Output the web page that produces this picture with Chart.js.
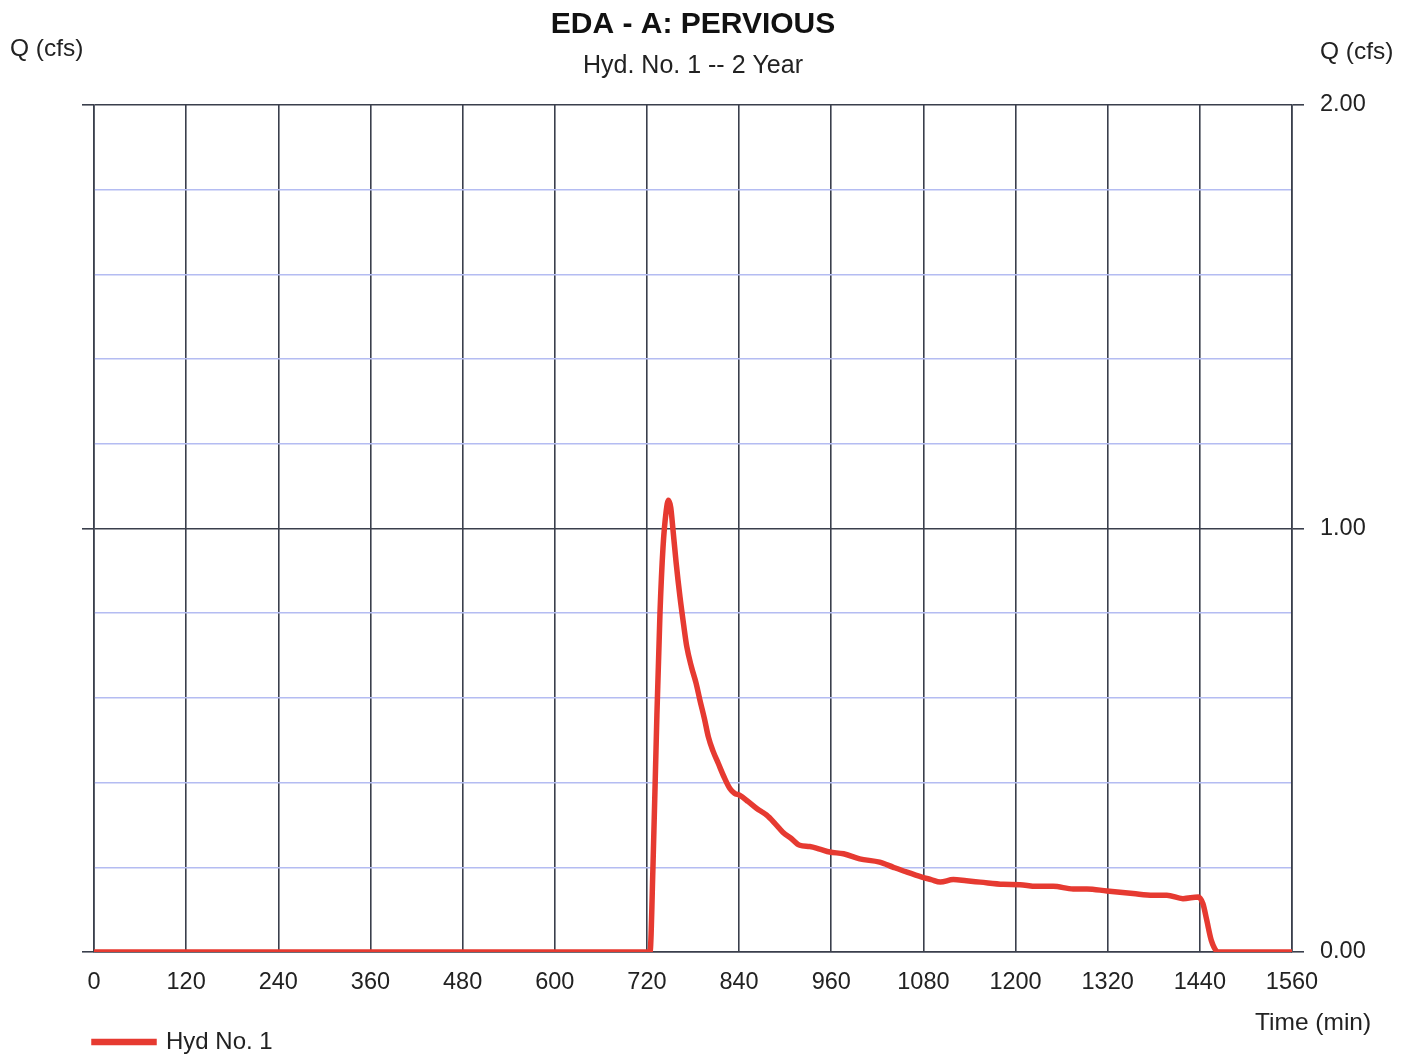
<!DOCTYPE html>
<html>
<head>
<meta charset="utf-8">
<title>EDA - A: PERVIOUS</title>
<script src="https://cdn.jsdelivr.net/npm/chart.js@4.4.1/dist/chart.umd.min.js"></script>
<style>
  html, body { margin: 0; padding: 0; background: #fff; }
  #chart { display: block; }
</style>
</head>
<body>
<canvas id="chart" width="1413" height="1058"></canvas>
<script>
// Hydrograph values
const times = [
  0, 720, 724, 728, 733, 737, 741, 745, 748, 751,
  754, 758, 763, 768, 772, 778, 784, 789, 795, 800,
  806, 813, 820, 828, 834, 841, 852, 863, 876, 886,
  897, 908, 919, 932, 945, 958, 976, 997, 1023, 1041,
  1058, 1078, 1090, 1102, 1119, 1136, 1154, 1184, 1206, 1227,
  1249, 1275, 1293, 1319, 1353, 1379, 1397, 1418, 1438, 1444,
  1449, 1455, 1464, 1560,
];
const flows = [
  0, 0, 0.0, 0.21, 0.56, 0.80, 0.957, 1.04, 1.067, 1.05,
  0.996, 0.92, 0.839, 0.77, 0.72, 0.673, 0.635, 0.595, 0.55, 0.508,
  0.475, 0.445, 0.415, 0.386, 0.375, 0.37, 0.355, 0.339, 0.323, 0.305,
  0.283, 0.268, 0.252, 0.249, 0.243, 0.236, 0.232, 0.22, 0.212, 0.2,
  0.189, 0.177, 0.171, 0.165, 0.171, 0.168, 0.165, 0.16, 0.159, 0.155,
  0.155, 0.149, 0.149, 0.144, 0.138, 0.134, 0.134, 0.126, 0.13, 0.114,
  0.075, 0.027, 0, 0,
];

const xMin = 0;
const xMax = 1560;
const xStep = 120;
const yMin = 0;
const yMax = 2;
const yStep = 0.2;
const yLabelled = [0, 1, 2];

const titleText = 'EDA - A: PERVIOUS';
const subtitleText = 'Hyd. No. 1 -- 2 Year';
const yAxisName = 'Q (cfs)';
const xAxisName = 'Time (min)';
const seriesName = 'Hyd No. 1';

const FONT = '"Liberation Sans", Arial, sans-serif';
const DARK = '#3a3f4c';
const MINOR = '#b4bcf2';
const RED = '#e63a31';

function isMajor(v) {
  return yLabelled.some((m) => Math.abs(v - m) < 1e-6);
}

// axis names: top left/right and bottom right
const axisNames = {
  id: 'axisNames',
  afterDraw(chart) {
    const {ctx, chartArea} = chart;
    ctx.save();
    ctx.fillStyle = '#222';
    ctx.font = '24.5px ' + FONT;
    ctx.textBaseline = 'middle';
    ctx.textAlign = 'left';
    ctx.fillText(yAxisName, chartArea.left - 84, chartArea.top - 56);
    ctx.fillText(yAxisName, chartArea.right + 28, chartArea.top - 53);
    ctx.fillText(xAxisName, chartArea.right - 37, chartArea.bottom + 71);
    ctx.restore();
  },
};

const data = times.map((t, i) => ({x: t, y: flows[i]}));

new Chart(document.getElementById('chart'), {
  type: 'line',
  data: {
    datasets: [
      {
        label: seriesName,
        data: data,
        borderColor: RED,
        backgroundColor: RED,
        borderWidth: 5.5,
        pointRadius: 0,
        cubicInterpolationMode: 'monotone',
        fill: false,
        yAxisID: 'y',
      },
    ],
  },
  options: {
    responsive: false,
    animation: false,
    layout: {padding: {left: 90, right: 0, top: 0, bottom: -6}},
    plugins: {
      title: {
        display: true,
        fullSize: false,
        text: titleText,
        color: '#111',
        font: {family: FONT, size: 30, weight: 'bold'},
        padding: {top: 7, bottom: 0},
      },
      subtitle: {
        display: true,
        fullSize: false,
        text: subtitleText,
        color: '#222',
        font: {family: FONT, size: 25},
        padding: {top: 8, bottom: 24},
      },
      legend: {
        display: true,
        position: 'bottom',
        align: 'start',
        labels: {
          color: '#222',
          font: {family: FONT, size: 24},
          boxWidth: 60,
          boxHeight: 1,
          padding: 4,
        },
      },
      tooltip: {enabled: false},
    },
    scales: {
      x: {
        type: 'linear',
        min: xMin,
        max: xMax,
        ticks: {
          stepSize: xStep,
          color: '#222',
          font: {family: FONT, size: 23.5},
          padding: 16,
          maxRotation: 0,
          callback: (v) => String(v),
        },
        grid: {color: DARK, lineWidth: 1.6, drawTicks: false},
        border: {color: DARK, width: 1.6},
        afterFit: (s) => {
          s.height = 74;
        },
      },
      y: {
        type: 'linear',
        position: 'left',
        min: yMin,
        max: yMax,
        ticks: {
          stepSize: yStep,
          color: '#222',
          font: {family: FONT, size: 23.5},
          padding: 12,
          callback: (v) => (isMajor(v) ? v.toFixed(2) : ''),
        },
        grid: {
          color: (c) => (isMajor(c.tick.value) ? DARK : MINOR),
          tickColor: (c) => (isMajor(c.tick.value) ? DARK : 'rgba(0,0,0,0)'),
          lineWidth: 1.6,
          tickLength: 12,
        },
        border: {color: DARK, width: 1.6},
        afterFit: (s) => {
          s.width = 4;
        },
      },
      y2: {
        type: 'linear',
        position: 'right',
        min: yMin,
        max: yMax,
        ticks: {
          stepSize: yStep,
          color: '#222',
          font: {family: FONT, size: 23.5},
          padding: 16,
          callback: (v) => (isMajor(v) ? v.toFixed(2) : ''),
        },
        grid: {
          drawOnChartArea: false,
          tickColor: (c) => (isMajor(c.tick.value) ? DARK : 'rgba(0,0,0,0)'),
          lineWidth: 1.6,
          tickLength: 12,
        },
        border: {color: DARK, width: 1.6},
        afterFit: (s) => {
          s.width = 121;
        },
      },
    },
  },
  plugins: [axisNames],
});
</script>
</body>
</html>
